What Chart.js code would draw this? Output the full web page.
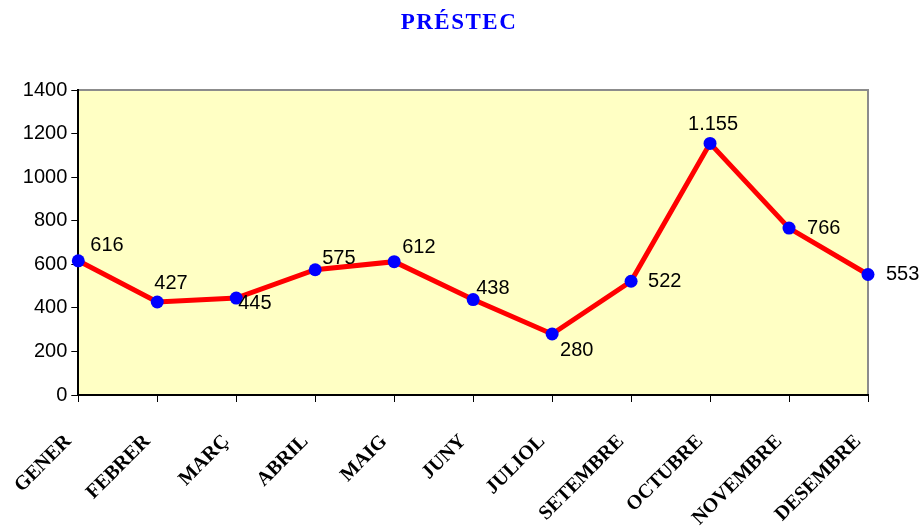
<!DOCTYPE html>
<html>
<head>
<meta charset="utf-8">
<script src="https://cdn.jsdelivr.net/npm/chart.js@4.4.0/dist/chart.umd.min.js"></script>
<style>
    html, body { margin: 0; padding: 0; background: #ffffff; }
    #wrap { width: 921px; height: 526px; }
</style>
</head>
<body>
<div id="wrap"><canvas id="myChart" width="921" height="526"></canvas></div>
<script>
const chartTitle = 'PRÉSTEC';
const months = ['GENER', 'FEBRER', 'MARÇ', 'ABRIL', 'MAIG', 'JUNY', 'JULIOL', 'SETEMBRE', 'OCTUBRE', 'NOVEMBRE', 'DESEMBRE'];
const prestec = [616, 427, 445, 575, 612, 438, 280, 522, 1155, 766, 553];
const yTicks = [0, 200, 400, 600, 800, 1000, 1200, 1400];

// where each value label sits next to its point (dx, dy, align)
const labelPlacement = [
    [12, -15, 'left'], [-3, -18, 'left'], [2, 5, 'left'], [7, -11, 'left'],
    [8, -14, 'left'], [3, -11, 'left'], [8, 16, 'left'], [17, 0, 'left'],
    [3, -19, 'center'], [18, 0, 'left'], [18, 0, 'left']
];

const formatNum = (v) => String(v).replace(/\B(?=(\d{3})+(?!\d))/g, '.');

const plotBox = {
    id: 'plotBox',
    beforeDraw(chart) {
        const { ctx, chartArea: a } = chart;
        ctx.save();
        ctx.fillStyle = '#FFFFC4';
        ctx.fillRect(a.left, a.top, a.right - a.left, a.bottom - a.top);
        ctx.strokeStyle = '#8c8c8c';
        ctx.lineWidth = 2;
        ctx.beginPath();
        ctx.moveTo(a.left, a.top);
        ctx.lineTo(a.right, a.top);
        ctx.lineTo(a.right, a.bottom);
        ctx.stroke();
        ctx.restore();
    },
    afterDraw(chart) {
        // title drawn by hand for the wide letter spacing
        const { ctx } = chart;
        ctx.save();
        ctx.font = 'bold 23px "Liberation Serif", "Times New Roman", serif';
        ctx.letterSpacing = '1.5px';
        ctx.fillStyle = '#0000FF';
        ctx.textAlign = 'center';
        ctx.textBaseline = 'middle';
        ctx.fillText(chartTitle, 459, 23);
        ctx.restore();
    }
};

const valueLabels = {
    id: 'valueLabels',
    afterDatasetsDraw(chart) {
        const { ctx } = chart;
        const meta = chart.getDatasetMeta(0);
        ctx.save();
        ctx.font = '20px "Liberation Sans", Arial, sans-serif';
        ctx.fillStyle = '#000000';
        ctx.textBaseline = 'middle';
        meta.data.forEach((pt, i) => {
            const p = labelPlacement[i];
            ctx.textAlign = p[2];
            ctx.fillText(formatNum(prestec[i]), pt.x + p[0], pt.y + p[1]);
        });
        ctx.restore();
    }
};

const ctx = document.getElementById('myChart').getContext('2d');
const myChart = new Chart(ctx, {
    type: 'line',
    data: {
        labels: months,
        datasets: [{
            label: chartTitle,
            data: prestec,
            borderColor: '#FF0000',
            borderWidth: 5,
            pointBackgroundColor: '#0000FF',
            pointBorderColor: '#0000FF',
            pointRadius: 6.5,
            pointBorderWidth: 0,
            tension: 0,
            clip: false
        }]
    },
    options: {
        responsive: false,
        animation: false,
        layout: {
            padding: { left: 0, right: 53, top: 90, bottom: 0 }
        },
        plugins: {
            legend: { display: false },
            tooltip: { enabled: false },
            title: { display: false }
        },
        scales: {
            x: {
                offset: false,
                grid: { drawOnChartArea: false, tickLength: 7, color: '#000000', lineWidth: 1 },
                border: { color: '#000000', width: 2 },
                ticks: {
                    autoSkip: false,
                    maxRotation: 45,
                    minRotation: 45,
                    padding: 28,
                    labelOffset: -10,
                    color: '#000000',
                    font: { family: '"Liberation Serif", "Times New Roman", serif', size: 20, weight: 'bold' }
                },
                afterFit(scale) { scale.height = 131; }
            },
            y: {
                min: 0,
                max: 1400,
                afterBuildTicks(scale) { scale.ticks = yTicks.map(v => ({ value: v })); },
                grid: { drawOnChartArea: false, tickLength: 7, color: '#000000', lineWidth: 1 },
                border: { color: '#000000', width: 2 },
                ticks: {
                    padding: 4,
                    color: '#000000',
                    font: { family: '"Liberation Sans", Arial, sans-serif', size: 20 },
                    callback: (v) => String(v)
                },
                afterFit(scale) { scale.width = 77; }
            }
        }
    },
    plugins: [plotBox, valueLabels]
});
</script>
</body>
</html>
